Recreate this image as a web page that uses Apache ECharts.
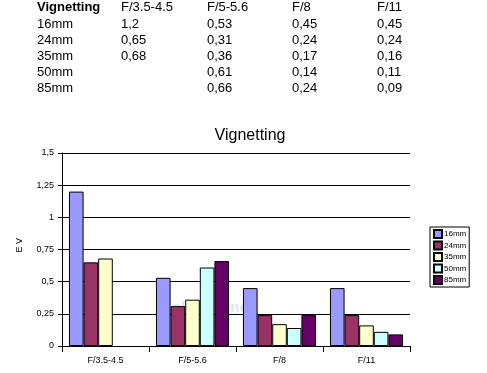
<!DOCTYPE html>
<html><head><meta charset="utf-8">
<script src="https://cdn.jsdelivr.net/npm/echarts@6/dist/echarts.min.js"></script>
<style>html,body{margin:0;padding:0;background:#fff}#c{width:487px;height:373px}</style>
</head><body><div id="c"></div>
<script>
const apertures = ['F/3.5-4.5', 'F/5-5.6', 'F/8', 'F/11'];
const lenses = ['16mm', '24mm', '35mm', '50mm', '85mm'];
const v16 = [1.2, 0.53, 0.45, 0.45];
const v24 = [0.65, 0.31, 0.24, 0.24];
const v35 = [0.68, 0.36, 0.17, 0.16];
const v50 = [null, 0.61, 0.14, 0.11];
const v85 = [null, 0.66, 0.24, 0.09];
const yTicks = [0, 0.25, 0.5, 0.75, 1, 1.25, 1.5];
const tableTitle = 'Vignetting';
const colors = ['#9999FF', '#993366', '#FFFFCC', '#CCFFFF', '#660066'];

const values = [v16, v24, v35, v50, v85];
const fmt = v => String(v).replace('.', ',');

const colX = [37, 121, 207, 292, 377];
const rowY = [8, 25, 41, 57, 73, 89];
const g = [];
g.push({type:'text', left: colX[0], top: rowY[0]-7, style:{text: tableTitle, font:'bold 13px "Liberation Sans", Arial', fill:'#000'}});
apertures.forEach((a,i)=>g.push({type:'text', left: colX[i+1], top: rowY[0]-7, style:{text:a, font:'13px "Liberation Sans", Arial', fill:'#000'}}));
lenses.forEach((l,r)=>{
  g.push({type:'text', left: colX[0], top: rowY[r+1]-7, style:{text:l, font:'13px "Liberation Sans", Arial', fill:'#000'}});
  values[r].forEach((v,i)=>{
    if (v!==null) g.push({type:'text', left: colX[i+1], top: rowY[r+1]-7, style:{text:fmt(v), font:'13px "Liberation Sans", Arial', fill:'#000'}});
  });
});
g.push({type:'text', left: 15, top: 238, rotation: Math.PI/2, style:{text:'E V', font:'9px "Liberation Sans", Arial', fill:'#000'}});
g.push({type:'text', left: 172, top: 300, z: -1, style:{text:'photozone', font:'bold 15px "Liberation Sans", Arial', fill:'rgba(180,200,225,0.45)'}});

const chart = echarts.init(document.getElementById('c'));
chart.setOption({
  animation:false,
  title:{text:'Vignetting', left: 245, top: 123, textAlign:'center',
    textStyle:{fontFamily:'"Liberation Sans", Arial', fontSize:16, fontWeight:'normal', color:'#000'}},
  grid:{left:62, right:77, top:153, bottom:27, containLabel:false},
  legend:{orient:'vertical', left:430, top:227, itemWidth:8, itemHeight:8, itemGap:1.5,
    padding:[2,3,2,3], borderColor:'#000', borderWidth:1, borderRadius:0,
    icon:'rect',
    textStyle:{fontFamily:'"Liberation Sans", Arial', fontSize:8, lineHeight:8, color:'#000', padding:[0,0,0,-3]},
    data: lenses},
  xAxis:{type:'category', data: apertures,
    axisLine:{lineStyle:{color:'#000'}},
    axisTick:{show:true, length:6, lineStyle:{color:'#000'}},
    axisLabel:{color:'#000', fontFamily:'"Liberation Sans", Arial', fontSize:9, margin:10}},
  yAxis:{type:'value', min:0, max:1.5, interval:0.25,
    axisLine:{show:true, lineStyle:{color:'#000'}},
    axisTick:{show:true, length:4, lineStyle:{color:'#000'}},
    splitLine:{lineStyle:{color:'#000', width:1}},
    axisLabel:{color:'#000', fontFamily:'"Liberation Sans", Arial', fontSize:9, margin:8,
      formatter: v => yTicks.includes(v) ? fmt(v) : ''}},
  graphic: g,
  series: lenses.map((l,i)=>({
    name:l, type:'bar', data: values[i], barGap:'0%', barCategoryGap:'16%',
    itemStyle:{color: colors[i], borderColor:'#000', borderWidth:1}
  }))
});
</script></body></html>
